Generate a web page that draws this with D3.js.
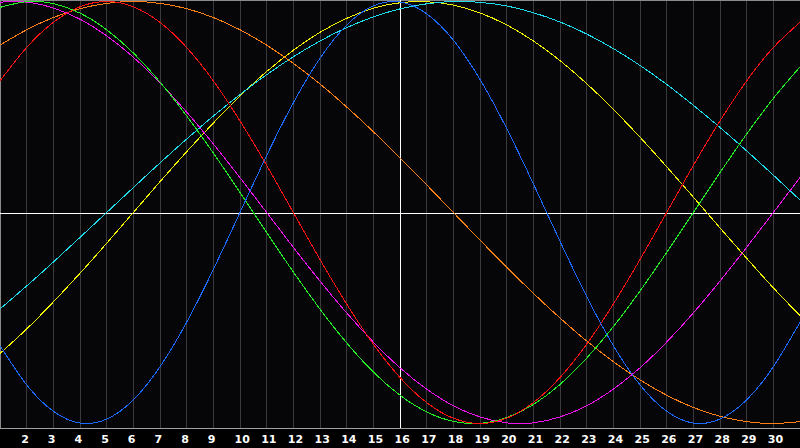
<!DOCTYPE html>
<html>
<head>
<meta charset="utf-8">
<title>Biorhythm</title>
<script src="https://cdn.jsdelivr.net/npm/d3@7"></script>
<style>
	html, body { margin: 0; padding: 0; background: #000; }
	#chart-area svg { display: block; }
</style>
</head>
<body>
<div id="chart-area"></div>
<script>
const svgWidth = 800,
			svgHeight = 448;
const plotHeight = 428;

// days of the month shown on the x axis
const days = [1, 2, 3, 4, 5, 6, 7, 8, 9, 10, 11, 12, 13, 14, 15, 16,
	17, 18, 19, 20, 21, 22, 23, 24, 25, 26, 27, 28, 29, 30, 31];
const tickDays = [2, 3, 4, 5, 6, 7, 8, 9, 10, 11, 12, 13, 14, 15, 16,
	17, 18, 19, 20, 21, 22, 23, 24, 25, 26, 27, 28, 29, 30];
const today = 16;

// values per day, -1 .. 1
const physical = [-0.631, -0.817, -0.942, -0.998, -0.979, -0.888, -0.731, -0.520, -0.270, 0, 0.270, 0.520, 0.731, 0.888, 0.979, 0.998,
	0.942, 0.817, 0.631, 0.398, 0.136, -0.136, -0.398, -0.631, -0.817, -0.942, -0.998, -0.979, -0.888, -0.731, -0.520];
const emotional = [0.624, 0.782, 0.901, 0.975, 1, 0.975, 0.901, 0.782, 0.624, 0.434, 0.223, 0, -0.223, -0.434, -0.624, -0.782,
	-0.901, -0.975, -1, -0.975, -0.901, -0.782, -0.624, -0.434, -0.223, 0, 0.223, 0.434, 0.624, 0.782, 0.901];
const intellectual = [0.972, 0.999, 0.990, 0.945, 0.866, 0.756, 0.618, 0.458, 0.282, 0.095, -0.095, -0.282, -0.458, -0.618, -0.756, -0.866,
	-0.945, -0.990, -0.999, -0.972, -0.910, -0.815, -0.690, -0.541, -0.372, -0.189, 0, 0.189, 0.372, 0.541, 0.690];
const intuitive = [0.997, 0.997, 0.969, 0.916, 0.837, 0.736, 0.614, 0.476, 0.325, 0.165, 0, -0.165, -0.325, -0.476, -0.614, -0.736,
	-0.837, -0.916, -0.969, -0.997, -0.997, -0.969, -0.916, -0.837, -0.736, -0.614, -0.476, -0.325, -0.165, 0, 0.165];
const aesthetic = [-0.668, -0.552, -0.424, -0.288, -0.146, 0, 0.146, 0.288, 0.424, 0.552, 0.668, 0.769, 0.854, 0.920, 0.968, 0.994,
	0.999, 0.983, 0.946, 0.889, 0.813, 0.720, 0.611, 0.489, 0.357, 0.217, 0.073, -0.073, -0.217, -0.357, -0.489];
const awareness = [0.793, 0.866, 0.924, 0.966, 0.991, 1, 0.991, 0.966, 0.924, 0.866, 0.793, 0.707, 0.609, 0.5, 0.383, 0.259,
	0.131, 0, -0.131, -0.259, -0.383, -0.5, -0.609, -0.707, -0.793, -0.866, -0.924, -0.966, -0.991, -1, -0.991];
const spiritual = [-0.457, -0.348, -0.235, -0.118, 0, 0.118, 0.235, 0.348, 0.457, 0.559, 0.653, 0.738, 0.813, 0.876, 0.927, 0.965,
	0.989, 1.000, 0.996, 0.979, 0.947, 0.903, 0.846, 0.777, 0.697, 0.607, 0.508, 0.403, 0.292, 0.177, 0.059];

const series = [
	{name: "aesthetic", values: aesthetic, color: "#f2f200"},
	{name: "spiritual", values: spiritual, color: "#1edcec"},
	{name: "awareness", values: awareness, color: "#ff8012"},
	{name: "intuitive", values: intuitive, color: "#ee14ee"},
	{name: "intellectual", values: intellectual, color: "#22f022"},
	{name: "emotional", values: emotional, color: "#ff1212"},
	{name: "physical", values: physical, color: "#1a6aff"}
];

const svg = d3.select("#chart-area")
	.append("svg")
	.attr("width", svgWidth)
	.attr("height", svgHeight);

svg.append("rect")
	.attr("width", svgWidth)
	.attr("height", svgHeight)
	.attr("fill", "#000");

svg.append("rect")
	.attr("width", svgWidth)
	.attr("height", plotHeight)
	.attr("fill", "#060609");

const x = d3.scaleLinear().domain([1, 31]).range([0, svgWidth]);
const y = d3.scaleLinear().domain([-1, 1]).range([423.5, 1.5]);

const px = v => Math.floor(v) + 0.5;

// day grid
svg.append("g")
	.selectAll("line")
	.data(tickDays)
	.enter().append("line")
	.attr("x1", d => px(x(d)))
	.attr("x2", d => px(x(d)))
	.attr("y1", 0)
	.attr("y2", plotHeight)
	.attr("stroke", "#3a3a3c")
	.attr("stroke-width", 1)
	.attr("shape-rendering", "crispEdges");

// frame
svg.append("path")
	.attr("d", `M0.5,${plotHeight}V0.5H${svgWidth}`)
	.attr("fill", "none")
	.attr("stroke", "#8a8a8a")
	.attr("shape-rendering", "crispEdges");

// zero line and today marker
svg.append("line")
	.attr("x1", 0).attr("x2", svgWidth)
	.attr("y1", px(y(0)) + 1).attr("y2", px(y(0)) + 1)
	.attr("stroke", "#fff")
	.attr("shape-rendering", "crispEdges");

svg.append("line")
	.attr("x1", px(x(today))).attr("x2", px(x(today)))
	.attr("y1", 0).attr("y2", plotHeight)
	.attr("stroke", "#fff")
	.attr("shape-rendering", "crispEdges");

const line = d3.line()
	.x((d, i) => x(days[i]))
	.y(d => y(d))
	.curve(d3.curveNatural);

svg.append("g")
	.selectAll("path")
	.data(series)
	.enter().append("path")
	.attr("d", d => line(d.values))
	.attr("fill", "none")
	.attr("stroke", d => d.color)
	.attr("stroke-width", 1)
	.attr("shape-rendering", "crispEdges");

// x axis
const xAxisCall = d3.axisBottom(x)
	.tickValues(tickDays)
	.tickSize(0)
	.tickPadding(0)
	.tickFormat(d => d);

const xAxisGroup = svg.append("g")
	.attr("class", "x axis")
	.attr("transform", `translate(0, ${plotHeight})`)
	.call(xAxisCall);

xAxisGroup.select(".domain")
	.attr("d", `M0,0.5H${svgWidth}`)
	.attr("stroke", "#a0a0a0")
	.attr("shape-rendering", "crispEdges");

xAxisGroup.selectAll("text")
	.attr("fill", "#fff")
	.attr("font-family", "DejaVu Sans, sans-serif")
	.attr("font-weight", "bold")
	.attr("font-size", "11px")
	.attr("text-anchor", "start")
	.attr("dx", -6)
	.attr("dy", 0)
	.attr("y", 15);
</script>
</body>
</html>
